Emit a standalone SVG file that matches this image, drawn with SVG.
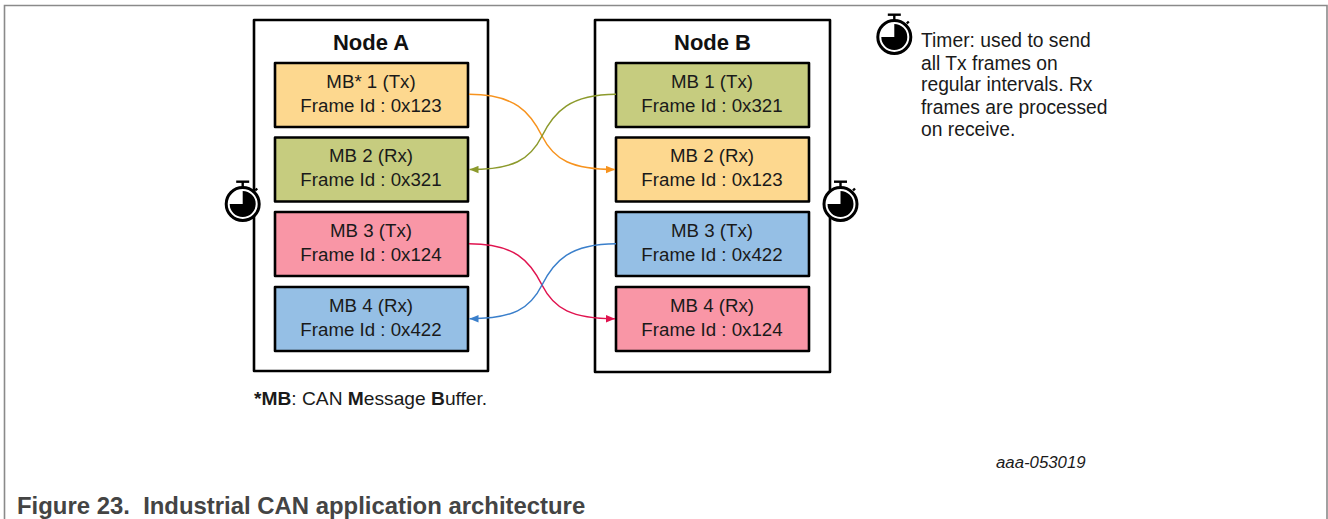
<svg xmlns="http://www.w3.org/2000/svg" width="1328" height="519" viewBox="0 0 1328 519">
<style>
text{font-family:"Liberation Sans",Arial,sans-serif;fill:#1a1a1a}
.lbl{font-size:18.700px;text-anchor:middle}
.title{font-size:22px;font-weight:bold;text-anchor:middle;fill:#111}
.outer{fill:#fff;stroke:#000;stroke-width:2.6;stroke-linejoin:round}
.mb{stroke:#000;stroke-width:2.6;stroke-linejoin:round}
.or{fill:#fdd88f}.gr{fill:#c6cc7f}.pk{fill:#f996a6}.bl{fill:#95bfe5}
.note{font-size:19.300px}
.c{fill:none;stroke-width:1.5}
.frame{fill:none;stroke:#8a8a8a;stroke-width:1.6}
</style>
<defs>
<marker id="aO" markerUnits="userSpaceOnUse" markerWidth="10" markerHeight="8" refX="9" refY="4" orient="auto"><path d="M0 0.300L9 4L0 7.700z" fill="#f7931e"/></marker>
<marker id="aG" markerUnits="userSpaceOnUse" markerWidth="10" markerHeight="8" refX="9" refY="4" orient="auto"><path d="M0 0.300L9 4L0 7.700z" fill="#8c9a2c"/></marker>
<marker id="aR" markerUnits="userSpaceOnUse" markerWidth="10" markerHeight="8" refX="9" refY="4" orient="auto"><path d="M0 0.300L9 4L0 7.700z" fill="#e0134f"/></marker>
<marker id="aB" markerUnits="userSpaceOnUse" markerWidth="10" markerHeight="8" refX="9" refY="4" orient="auto"><path d="M0 0.300L9 4L0 7.700z" fill="#3a7fcb"/></marker>
<g id="timer">
<path d="M-6.5 -22.3H6.5" stroke="#000" stroke-width="2.4" fill="none"/>
<path d="M0 -22V-17" stroke="#000" stroke-width="2.4" fill="none"/>
<path d="M12.5 -13.5L14.5 -15.5" stroke="#000" stroke-width="2.4" fill="none"/>
<circle r="16.5" fill="#fff" stroke="#000" stroke-width="3"/>
<path d="M0 0V-13A13 13 0 1 1 -13 0Z" fill="#000"/>
</g>
</defs>
<path class="frame" d="M4.5 519V5.500H1327V519"/>
<g id="node-a">
<rect class="outer" x="254" y="20" width="234" height="351"/>
<text class="title" x="371" y="50">Node A</text>
</g>
<g id="node-b">
<rect class="outer" x="595" y="20" width="235" height="352"/>
<text class="title" x="712.500" y="50">Node B</text>
</g>
<g id="a-mb1"><rect class="mb or" x="275" y="63" width="193" height="64"/><text class="lbl" x="371" y="88">MB* 1 (Tx)</text><text class="lbl" x="371" y="112">Frame Id : 0x123</text></g>
<g id="a-mb2"><rect class="mb gr" x="275" y="137.500" width="193" height="64"/><text class="lbl" x="371" y="162">MB 2 (Rx)</text><text class="lbl" x="371" y="186">Frame Id : 0x321</text></g>
<g id="a-mb3"><rect class="mb pk" x="275" y="212" width="193" height="64"/><text class="lbl" x="371" y="237">MB 3 (Tx)</text><text class="lbl" x="371" y="260.500">Frame Id : 0x124</text></g>
<g id="a-mb4"><rect class="mb bl" x="275" y="287" width="193" height="64"/><text class="lbl" x="371" y="311.500">MB 4 (Rx)</text><text class="lbl" x="371" y="335.500">Frame Id : 0x422</text></g>
<g id="b-mb1"><rect class="mb gr" x="616" y="63" width="193" height="64"/><text class="lbl" x="712" y="88">MB 1 (Tx)</text><text class="lbl" x="712" y="112">Frame Id : 0x321</text></g>
<g id="b-mb2"><rect class="mb or" x="616" y="137.500" width="193" height="64"/><text class="lbl" x="712" y="162">MB 2 (Rx)</text><text class="lbl" x="712" y="186">Frame Id : 0x123</text></g>
<g id="b-mb3"><rect class="mb bl" x="616" y="212" width="193" height="64"/><text class="lbl" x="712" y="237">MB 3 (Tx)</text><text class="lbl" x="712" y="260.500">Frame Id : 0x422</text></g>
<g id="b-mb4"><rect class="mb pk" x="616" y="287" width="193" height="64"/><text class="lbl" x="712" y="311.500">MB 4 (Rx)</text><text class="lbl" x="712" y="335.500">Frame Id : 0x124</text></g>
<g id="connectors">
<path class="c" stroke="#f7931e" marker-end="url(#aO)" d="M469 94.300C515 94.300 530 112 542 136C554 160 572 169.500 615 169.500"/>
<path class="c" stroke="#8c9a2c" marker-end="url(#aG)" d="M616 94.300C570 94.300 554 112 542 136C530 160 513 169.500 469.500 169.500"/>
<path class="c" stroke="#e0134f" marker-end="url(#aR)" d="M469 243.700C515 243.700 530 261 542 285C554 309 572 318.700 615 318.700"/>
<path class="c" stroke="#3a7fcb" marker-end="url(#aB)" d="M616 243.700C570 243.700 554 261 542 285C530 309 513 318.700 469.500 318.700"/>
</g>
<g id="timer-a"><use href="#timer" x="242.700" y="204"/></g>
<g id="timer-b"><use href="#timer" x="840.500" y="204"/></g>
<g id="legend">
<use href="#timer" x="894.300" y="37"/>
<text class="note" x="921" y="46.500">Timer: used to send</text>
<text class="note" x="921" y="69.500">all Tx frames on</text>
<text class="note" x="921" y="90.500">regular intervals. Rx</text>
<text class="note" x="921" y="113.500">frames are processed</text>
<text class="note" x="921" y="136">on receive.</text>
</g>
<text x="254" y="404.500" style="font-size:19.200px"><tspan font-weight="bold">*MB</tspan>: CAN <tspan font-weight="bold">M</tspan>essage <tspan font-weight="bold">B</tspan>uffer.</text>
<text x="996" y="467.500" style="font-size:16.800px;font-style:italic">aaa-053019</text>
<text x="17" y="513.500" style="font-size:23.900px;font-weight:bold;fill:#444;white-space:pre">Figure 23.  Industrial CAN application architecture</text>
</svg>
